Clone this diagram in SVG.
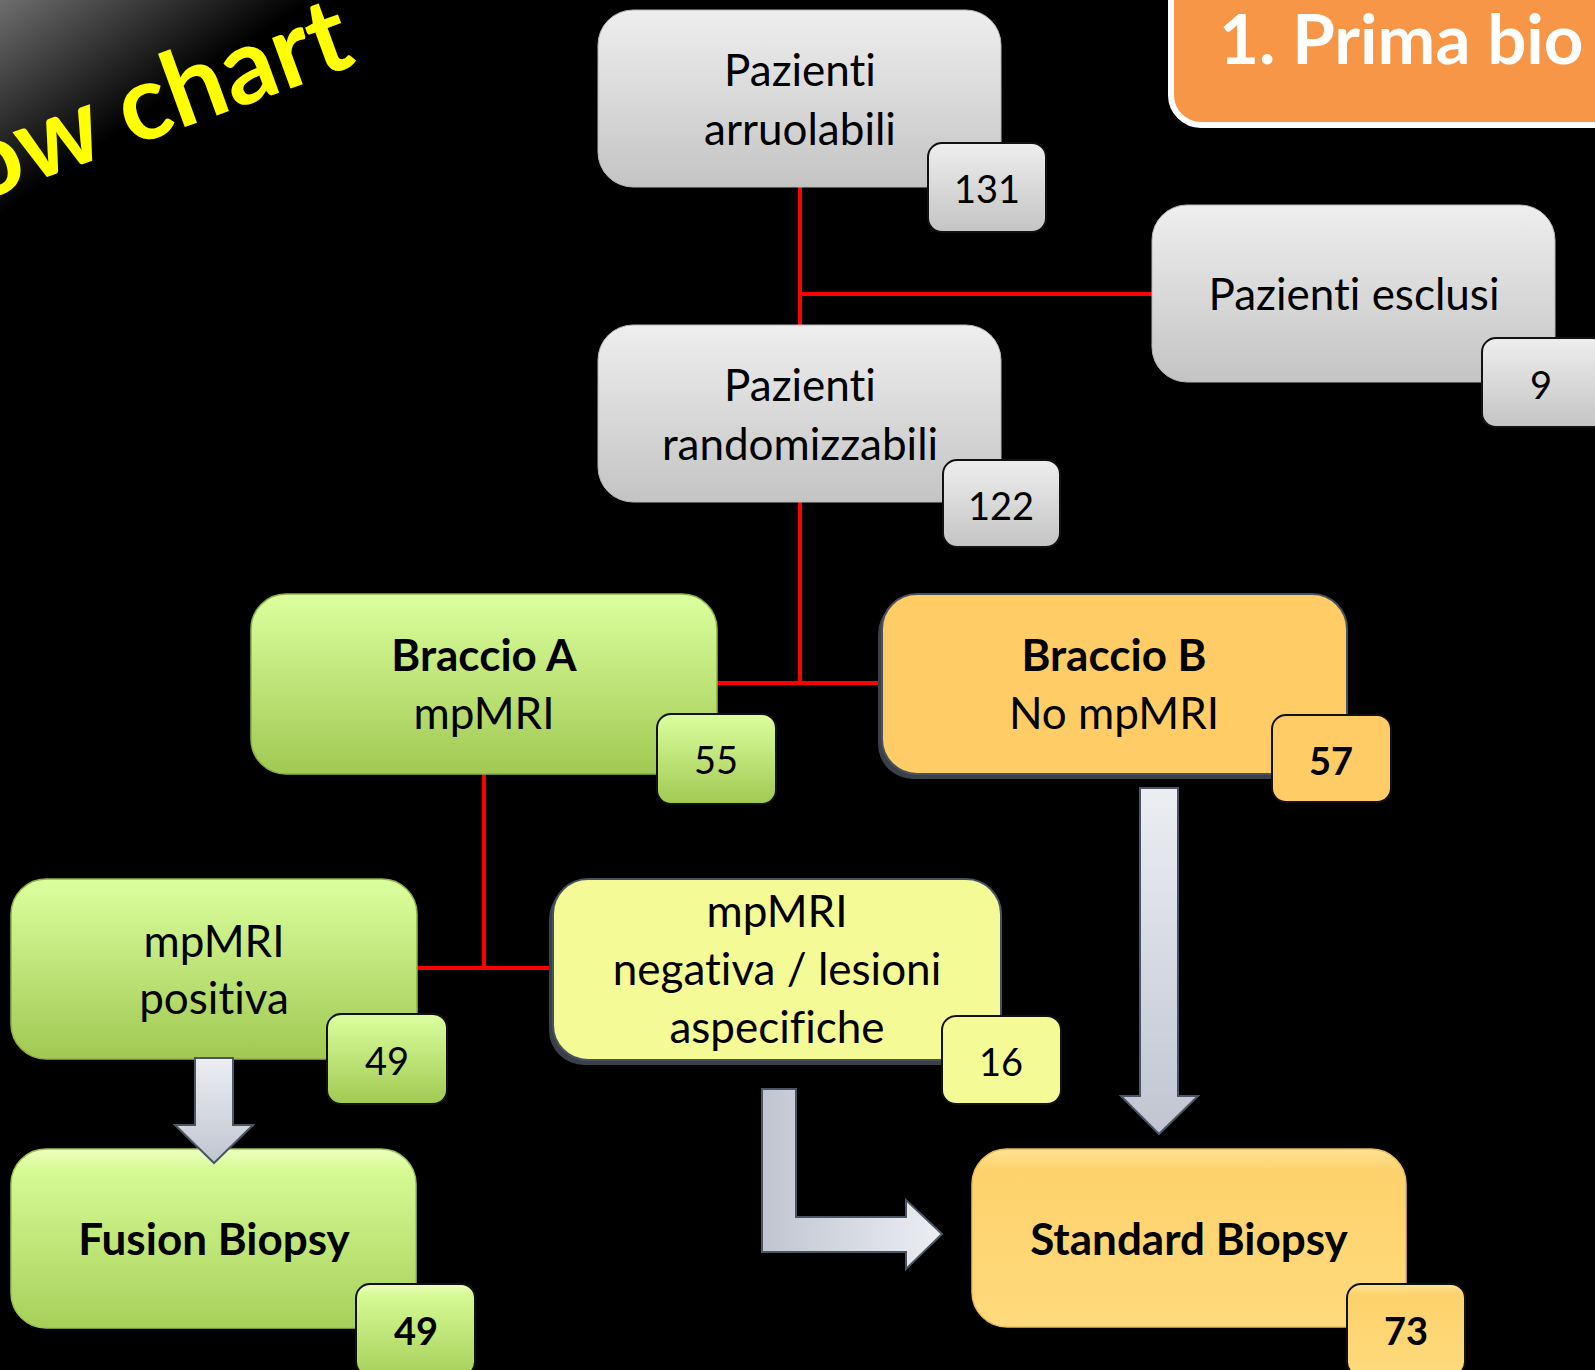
<svg xmlns="http://www.w3.org/2000/svg" width="1595" height="1370" viewBox="0 0 1595 1370">
<defs>
<linearGradient id="gBg" gradientUnits="userSpaceOnUse" x1="0" y1="0" x2="100" y2="145"><stop offset="0" stop-color="#6e6e6e"/><stop offset="1" stop-color="#000"/></linearGradient>
<linearGradient id="gGrey" x1="0" y1="0" x2="0" y2="1"><stop offset="0" stop-color="#eeeeee"/><stop offset="1" stop-color="#c4c4c4"/></linearGradient>
<linearGradient id="gGreen" x1="0" y1="0" x2="0" y2="1"><stop offset="0" stop-color="#dcff9e"/><stop offset="1" stop-color="#a0c952"/></linearGradient>
<linearGradient id="gFus" x1="0" y1="0" x2="0" y2="1"><stop offset="0" stop-color="#eeffc0"/><stop offset="0.12" stop-color="#d6fa94"/><stop offset="1" stop-color="#a6d05a"/></linearGradient>
<linearGradient id="gStd" x1="0" y1="0" x2="0" y2="1"><stop offset="0" stop-color="#ffe394"/><stop offset="0.12" stop-color="#fdd26c"/><stop offset="1" stop-color="#ffda7c"/></linearGradient>
<linearGradient id="gArrV" x1="0" y1="0" x2="0" y2="1"><stop offset="0" stop-color="#eceef2"/><stop offset="1" stop-color="#c0c5d1"/></linearGradient>
<linearGradient id="gArrH" x1="0" y1="0" x2="1" y2="0"><stop offset="0" stop-color="#c0c5d1"/><stop offset="1" stop-color="#eceef2"/></linearGradient>
</defs>
<style>
text{font-variant-ligatures:none;font-feature-settings:"liga" 0,"clig" 0}
.t{font-family:Lato,"Liberation Sans",sans-serif;font-size:44px;fill:#000;text-anchor:middle}
.b{font-weight:bold}
.n{font-size:38px}
.grey{fill:url(#gGrey);stroke:#b8b8b8;stroke-width:1}
.green{fill:url(#gGreen);stroke:#8fb14c;stroke-width:1.5}
.badge{stroke:#111;stroke-width:2}
.shadow{fill:#3a3f48}
.slate{stroke:#46525f;stroke-width:2}
.conn{stroke:#ff0000;stroke-width:4;fill:none}
.arr{stroke:#4a5666;stroke-width:2}
</style>
<rect x="0" y="0" width="1595" height="1370" fill="#000"/>
<rect x="0" y="0" width="420" height="300" fill="url(#gBg)"/>
<text x="358" y="64" transform="rotate(-20 358 64)" font-family="Lato,'Liberation Sans',sans-serif" font-weight="bold" font-size="105" fill="#ffff00" text-anchor="end">ow chart</text>
<g id="title-box">
<rect x="1171" y="-40" width="470" height="165" rx="30" fill="#f79646" stroke="#fff" stroke-width="6"/>
<text x="1219" y="64" font-family="Lato,'Liberation Sans',sans-serif" font-weight="bold" font-size="69" fill="#fff">1. Prima bio</text>
</g>
<g id="connectors">
<path class="conn" d="M800 187V325M800 294H1152M800 502V683M717 683H882M484 774V968M417 968H553"/>
</g>
<g id="node-arruolabili">
<rect class="grey" x="598" y="10" width="403" height="177" rx="35"/>
<text class="t" x="800" y="86">Pazienti</text>
<text class="t" x="800" y="145">arruolabili</text>
<rect class="badge" fill="url(#gGrey)" x="928" y="143" width="118" height="89" rx="14"/>
<text class="t n" x="987" y="203">131</text>
</g>
<g id="node-esclusi">
<rect class="grey" x="1152" y="205" width="403" height="177" rx="35"/>
<text class="t" x="1354" y="310">Pazienti esclusi</text>
<rect class="badge" fill="url(#gGrey)" x="1482" y="338" width="125" height="89" rx="14"/>
<text class="t n" x="1541" y="399">9</text>
</g>
<g id="node-randomizzabili">
<rect class="grey" x="598" y="325" width="403" height="177" rx="35"/>
<text class="t" x="800" y="401">Pazienti</text>
<text class="t" x="800" y="460">randomizzabili</text>
<rect class="badge" fill="url(#gGrey)" x="943" y="460" width="117" height="87" rx="14"/>
<text class="t n" x="1001" y="520">122</text>
</g>
<g id="node-braccio-a">
<rect class="green" x="251" y="594" width="466" height="180" rx="35"/>
<text class="t b" x="484" y="671">Braccio A</text>
<text class="t" x="484" y="729">mpMRI</text>
<rect class="badge" fill="url(#gGreen)" x="657" y="714" width="119" height="90" rx="14"/>
<text class="t n" x="716" y="774">55</text>
</g>
<g id="node-braccio-b">
<rect class="shadow" x="878" y="599" width="465" height="180" rx="35"/>
<rect class="slate" fill="#ffcc66" x="882" y="594" width="465" height="180" rx="35"/>
<text class="t b" x="1114" y="671">Braccio B</text>
<text class="t" x="1114" y="729">No mpMRI</text>
<rect class="badge" fill="#ffcc66" x="1272" y="715" width="119" height="87" rx="14"/>
<text class="t n b" x="1331" y="775">57</text>
</g>
<g id="node-positiva">
<rect class="green" x="11" y="879" width="406" height="180" rx="35"/>
<text class="t" x="214" y="957">mpMRI</text>
<text class="t" x="214" y="1014">positiva</text>
<rect class="badge" fill="url(#gGreen)" x="327" y="1014" width="120" height="90" rx="14"/>
<text class="t n" x="387" y="1075">49</text>
</g>
<g id="node-negativa">
<rect class="shadow" x="549" y="884" width="448" height="181" rx="35"/>
<rect class="slate" fill="#f4fa96" x="553" y="879" width="448" height="181" rx="35"/>
<text class="t" x="777" y="927">mpMRI</text>
<text class="t" x="777" y="985">negativa / lesioni</text>
<text class="t" x="777" y="1043">aspecifiche</text>
<rect class="badge" fill="#f4fa96" x="942" y="1016" width="119" height="88" rx="14"/>
<text class="t n" x="1001" y="1076">16</text>
</g>
<g id="node-fusion">
<rect fill="url(#gFus)" stroke="#9cc454" stroke-width="1.5" x="11" y="1149" width="405" height="179" rx="35"/>
<text class="t b" x="214" y="1255">Fusion Biopsy</text>
<rect class="badge" fill="url(#gFus)" x="356" y="1284" width="119" height="92" rx="14"/>
<text class="t n b" x="416" y="1345">49</text>
</g>
<g id="node-standard">
<rect fill="url(#gStd)" stroke="#e8bf5c" stroke-width="1.5" x="972" y="1149" width="434" height="178" rx="35"/>
<text class="t b" x="1189" y="1255">Standard Biopsy</text>
<rect class="badge" fill="url(#gStd)" x="1347" y="1284" width="118" height="92" rx="14"/>
<text class="t n b" x="1406" y="1345">73</text>
</g>
<g id="arrows">
<polygon class="arr" fill="url(#gArrV)" points="195,1058 233,1058 233,1125 253,1125 214,1163 175,1125 195,1125"/>
<polygon class="arr" fill="url(#gArrV)" points="1140,788 1178,788 1178,1096 1198,1096 1159,1134 1121,1096 1140,1096"/>
<polygon class="arr" fill="url(#gArrH)" points="762,1089 796,1089 796,1217 906,1217 906,1200 942,1234 906,1269 906,1252 762,1252"/>
</g>
</svg>
